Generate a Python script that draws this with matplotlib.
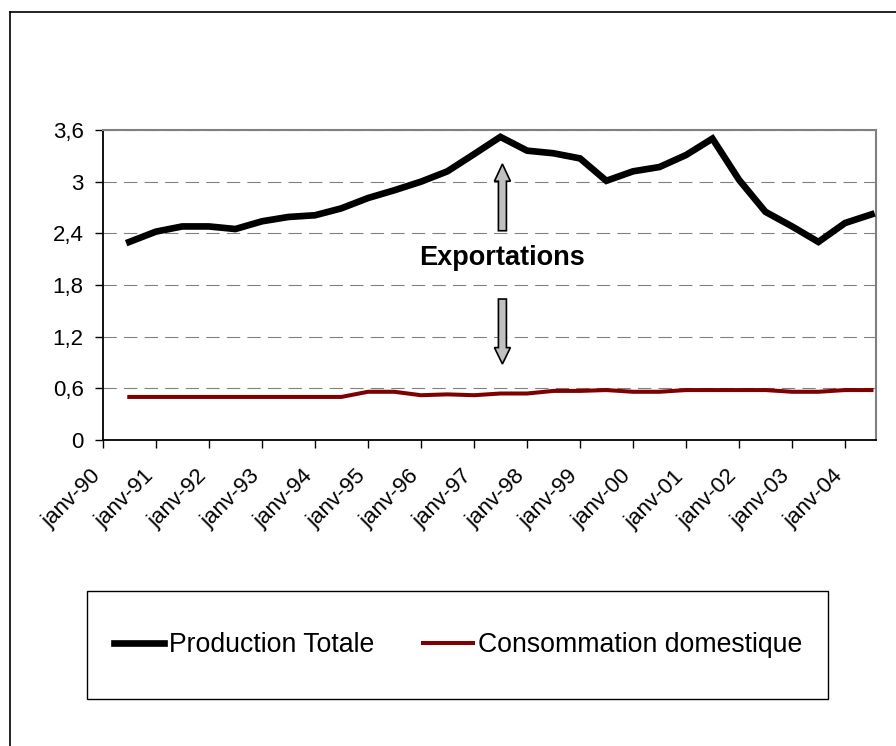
import numpy as np
import pandas as pd
import matplotlib
matplotlib.use('Agg')
import matplotlib.pyplot as plt
import matplotlib.dates as mdates
from matplotlib.patches import FancyArrow, Rectangle
from matplotlib.lines import Line2D
from matplotlib.transforms import ScaledTranslation

plt.rcParams['font.family'] = ['Liberation Sans', 'DejaVu Sans']

# Semi-annual observations, juil-90 .. juil-04
dates = pd.date_range('1990-07-01', periods=29, freq='6MS')

production = [2.30, 2.42, 2.48, 2.48, 2.45, 2.54, 2.59, 2.61, 2.69, 2.81,
              2.90, 3.00, 3.12, 3.32, 3.52, 3.36, 3.33, 3.27, 3.01, 3.12,
              3.17, 3.31, 3.50, 3.02, 2.65, 2.48, 2.30, 2.52, 2.62]
consommation = [0.50, 0.50, 0.50, 0.50, 0.50, 0.50, 0.50, 0.50, 0.50, 0.56,
                0.56, 0.52, 0.53, 0.52, 0.54, 0.54, 0.57, 0.57, 0.58, 0.56,
                0.56, 0.58, 0.58, 0.58, 0.58, 0.56, 0.56, 0.58, 0.58]

tick_dates = pd.date_range('1990-01-01', '2004-01-01', freq='YS')
tick_labels = ['janv-90', 'janv-91', 'janv-92', 'janv-93', 'janv-94',
               'janv-95', 'janv-96', 'janv-97', 'janv-98', 'janv-99',
               'janv-00', 'janv-01', 'janv-02', 'janv-03', 'janv-04']
y_ticks = [0, 0.6, 1.2, 1.8, 2.4, 3.0, 3.6]
y_labels = ['0', '0,6', '1,2', '1,8', '2,4', '3', '3,6']

fig = plt.figure(figsize=(8.96, 7.46), dpi=100)
W, H = 896, 746
ax = fig.add_axes([103 / W, 1 - 440 / H, (876 - 103) / W, (440 - 130) / H])

l1, = ax.plot(dates, production, color='black', lw=4.8,
              solid_joinstyle='miter', label='Production Totale', zorder=3)
l2, = ax.plot(dates, consommation, color='#800000', lw=2.9,
              label='Consommation domestique', zorder=3)

ax.set_xlim(pd.Timestamp('1990-01-01'), pd.Timestamp('2004-08-01'))
ax.set_ylim(0, 3.6)
ax.set_yticks(y_ticks)
ax.set_yticklabels(y_labels, fontsize=16)
ax.set_xticks(tick_dates)
ax.set_xticklabels(tick_labels, fontsize=16, rotation=45,
                   ha='right', va='center', rotation_mode='anchor')
ax.tick_params(axis='y', length=6, width=1, pad=8)
ax.tick_params(axis='x', length=6, width=1, pad=14)
shift = ScaledTranslation(-4 / 72, -4 / 72, fig.dpi_scale_trans)
for lab in ax.get_xticklabels():
    lab.set_transform(lab.get_transform() + shift)

ax.yaxis.grid(True, color='#808080', lw=0.8, dashes=(12, 6.5))
ax.set_axisbelow(True)
for s in ['top', 'right']:
    ax.spines[s].set_color('#808080')
    ax.spines[s].set_linewidth(1.5)
for s in ['left', 'bottom']:
    ax.spines[s].set_color('black')
    ax.spines[s].set_linewidth(1.3)

# arrows around the export gap
xc = mdates.date2num(pd.Timestamp('1997-07-15'))
arr_w = 8 / 53 * 365.25
head_w = 16 / 53 * 365.25
ax.add_patch(FancyArrow(xc, 2.43, 0, 3.205 - 2.43, width=arr_w, head_width=head_w,
                        head_length=0.2, length_includes_head=True,
                        fc='#c0c0c0', ec='black', lw=1.2, zorder=4))
ax.add_patch(FancyArrow(xc, 1.637, 0, 0.883 - 1.637, width=arr_w, head_width=head_w,
                        head_length=0.19, length_includes_head=True,
                        fc='#c0c0c0', ec='black', lw=1.2, zorder=4))
ax.text(xc, 2.03, 'Exportations', ha='center', va='baseline',
        fontsize=19.5, fontweight='bold', zorder=5)

# outer chart frame (right and bottom edges are outside the image)
fig.add_artist(Line2D([10 / W, 10 / W], [1 - 12 / H, 0], color='black', lw=1.2))
fig.add_artist(Line2D([10 / W, 1], [1 - 12 / H, 1 - 12 / H], color='black', lw=1.2))

# legend box
fig.add_artist(Rectangle((87 / W, 1 - 699 / H), (828 - 87) / W, (699 - 591) / H,
                         transform=fig.transFigure, fill=False, ec='black', lw=1.0))
fig.legend(handles=[l1, l2], loc='center', bbox_to_anchor=(458 / W, 1 - 645 / H),
           ncol=2, frameon=False, fontsize=19.2, handlelength=1.9,
           handletextpad=0.19, columnspacing=1.8)

plt.savefig('out.png', dpi=100)
